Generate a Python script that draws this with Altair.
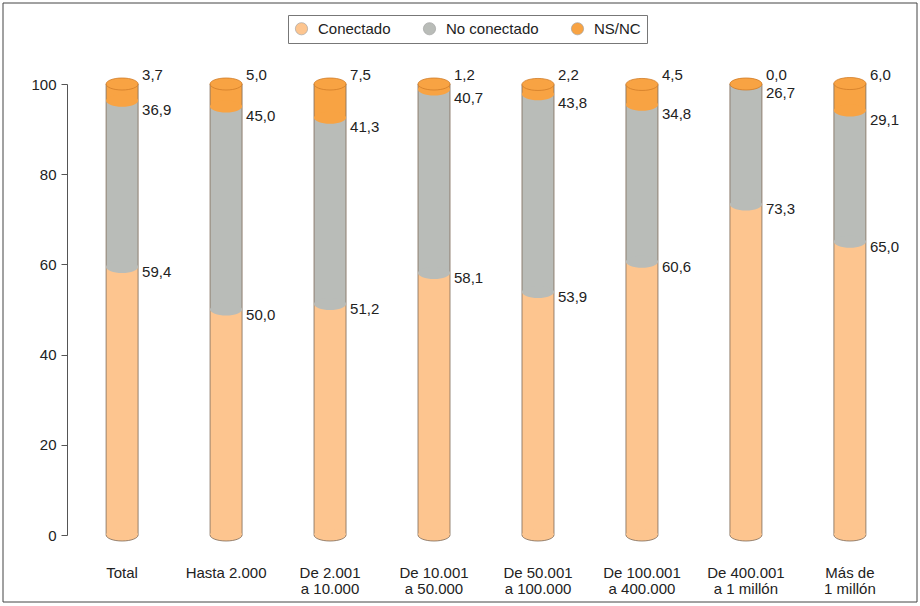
import altair as alt
import pandas as pd

# Tamaño del municipio (las "|" separan las líneas de la etiqueta)
categorias = [
    "Total", "Hasta 2.000", "De 2.001|a 10.000", "De 10.001|a 50.000",
    "De 50.001|a 100.000", "De 100.001|a 400.000", "De 400.001|a 1 millón",
    "Más de|1 millón",
]
conectado = [59.4, 50.0, 51.2, 58.1, 53.9, 60.6, 73.3, 65.0]
no_conectado = [36.9, 45.0, 41.3, 40.7, 43.8, 34.8, 26.7, 29.1]
ns_nc = [3.7, 5.0, 7.5, 1.2, 2.2, 4.5, 0.0, 6.0]

series = ["Conectado", "No conectado", "NS/NC"]
colores = ["#fdc58f", "#b9bcb8", "#f8a343"]
ticks_y = [0, 20, 40, 60, 80, 100]

FONT = "Liberation Sans"
BORDE = "#7d6a58"

# Tabla larga con los tramos apilados de cada cilindro
filas = []
totales = []
for i, cat in enumerate(categorias):
    lo = 0.0
    for s, vals in zip(series, [conectado, no_conectado, ns_nc]):
        hi = lo + vals[i]
        filas.append({"cat": cat, "serie": s, "val": vals[i], "lo": lo, "hi": hi})
        lo = hi
    totales.append({"cat": cat, "base": 0.0, "total": lo})
df = pd.DataFrame(filas)
df_tot = pd.DataFrame(totales)

# Elipse completa y arco inferior en unidades de símbolo ([-1, 1])
ELIPSE = "M -1 0 A 1 0.375 0 1 1 1 0 A 1 0.375 0 1 1 -1 0 Z"
ARCO = "M -1 0 A 1 0.375 0 0 0 1 0"
ANCHO = 32
TAM = ANCHO * ANCHO

x_enc = alt.X(
    "cat:N", sort=categorias, title=None,
    scale=alt.Scale(paddingInner=0, paddingOuter=0.03),
    axis=alt.Axis(
        labelExpr="split(datum.label, '|')", labelAngle=0, domain=False,
        ticks=False, tickSize=0, labelPadding=30, labelFontSize=15,
        labelFont=FONT, labelColor="#222", labelLineHeight=16,
    ),
)
y_scale = alt.Scale(domain=[0, 100], nice=False)
y_axis = alt.Axis(
    values=ticks_y, grid=False, tickSize=6, labelPadding=5, labelFontSize=15,
    labelFont=FONT, labelColor="#222", domainColor="#555", tickColor="#555",
)
x_sin = alt.X("cat:N", sort=categorias, title=None)

color_enc = alt.Color(
    "serie:N",
    scale=alt.Scale(domain=series, range=colores),
    legend=alt.Legend(
        title=None, orient="none", legendX=221, legendY=-69,
        direction="horizontal", symbolType="circle", symbolSize=150,
        symbolStrokeColor="#999", symbolStrokeWidth=0.6,
        labelFontSize=15, labelFont=FONT, labelColor="#222",
        columnPadding=31, labelOffset=9, padding=6,
        strokeColor="#777", fillColor="white",
    ),
)

tramos = alt.Chart(df).mark_bar(width=ANCHO).encode(
    x=x_enc,
    y=alt.Y("lo:Q", scale=y_scale, axis=y_axis, title=None),
    y2="hi:Q",
    color=color_enc,
)

contorno = alt.Chart(df_tot).mark_bar(
    width=ANCHO, fillOpacity=0, stroke=BORDE, strokeWidth=0.8
).encode(
    x=x_sin,
    y=alt.Y("base:Q", title=None),
    y2="total:Q",
)

curvas = alt.Chart(df).mark_point(
    shape=ELIPSE, size=TAM, filled=True, opacity=1, strokeWidth=0
).encode(
    x=x_sin,
    y=alt.Y("lo:Q", title=None),
    color=alt.Color("serie:N", scale=alt.Scale(domain=series, range=colores), legend=None),
)

base_arco = alt.Chart(df_tot).mark_point(
    shape=ARCO, size=TAM, filled=False, opacity=1, stroke=BORDE, strokeWidth=0.8
).encode(
    x=x_sin,
    y=alt.Y("base:Q", title=None),
)

tapa = alt.Chart(df_tot).mark_point(
    shape=ELIPSE, size=TAM, filled=True, opacity=1,
    fill="#f8a343", stroke="#d07c28", strokeWidth=0.8,
).encode(
    x=x_sin,
    y=alt.Y("total:Q", title=None),
)


def etiquetas(serie, dy):
    return alt.Chart(df).transform_filter(
        alt.datum.serie == serie
    ).transform_calculate(
        txt="replace(format(datum.val, '.1f'), '.', ',')"
    ).mark_text(
        align="left", baseline="middle", dx=20, dy=dy,
        fontSize=15, font=FONT, color="#222",
    ).encode(
        x=x_sin,
        y=alt.Y("hi:Q", title=None),
        text="txt:N",
    )


marco = alt.Chart(pd.DataFrame({"k": [0]})).mark_rect(
    fillOpacity=0, stroke="#444", strokeWidth=1
).encode(
    x=alt.value(-64), x2=alt.value(850), y=alt.value(-81), y2=alt.value(518)
)

chart = alt.layer(
    tramos, contorno, curvas, base_arco, tapa,
    etiquetas("Conectado", 5), etiquetas("No conectado", 9), etiquetas("NS/NC", -9),
    marco,
).properties(
    width=838, height=451,
    padding={"left": 67, "top": 84, "right": 15, "bottom": 71},
    autosize=alt.AutoSizeParams(type="none"),
    background="white",
).configure_view(stroke=None)

chart.save("out.html", embed_options={"renderer": "svg", "actions": False})
